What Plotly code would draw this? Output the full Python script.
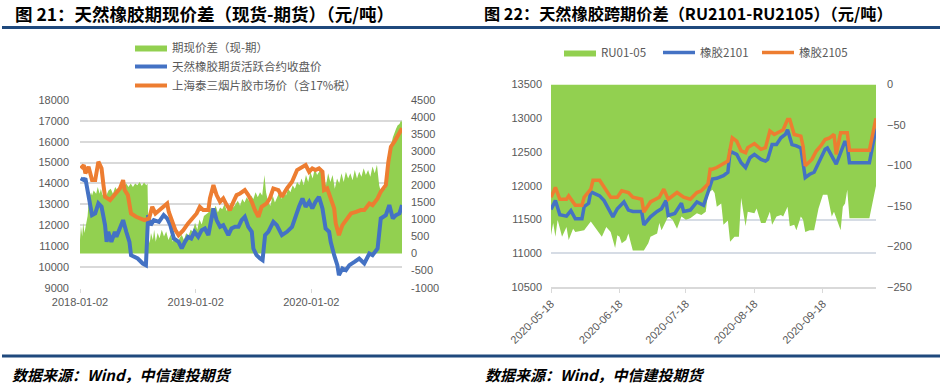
import plotly.graph_objects as go

# ---------------- Chart 21 data ----------------
basis_dates = ["2018-01-02","2018-01-05","2018-01-09","2018-01-12","2018-01-16","2018-01-19","2018-01-23","2018-01-26",
"2018-01-30","2018-02-02","2018-02-06","2018-02-09","2018-02-14","2018-02-22","2018-02-27","2018-03-05","2018-03-09",
"2018-03-14","2018-03-20","2018-03-26","2018-04-02","2018-04-09","2018-04-16","2018-04-23","2018-04-30","2018-05-07",
"2018-05-14","2018-05-21","2018-05-28","2018-06-04","2018-06-11","2018-06-18","2018-06-25","2018-07-02","2018-07-09",
"2018-07-16","2018-07-23","2018-07-30","2018-08-03","2018-08-06","2018-08-10","2018-08-14","2018-08-20","2018-08-24",
"2018-08-29","2018-09-04","2018-09-10","2018-09-17","2018-09-24","2018-10-01","2018-10-08","2018-10-15","2018-10-22",
"2018-10-29","2018-11-05","2018-11-12","2018-11-19","2018-11-26","2018-12-03","2018-12-10","2018-12-17","2018-12-24",
"2018-12-31","2019-01-07","2019-01-14","2019-01-21","2019-01-28","2019-02-11","2019-02-20","2019-02-27","2019-03-06",
"2019-03-13","2019-03-20","2019-03-27","2019-04-03","2019-04-10","2019-04-17","2019-04-24","2019-05-01","2019-05-08",
"2019-05-15","2019-05-22","2019-05-29","2019-06-05","2019-06-12","2019-06-19","2019-06-26","2019-07-03","2019-07-10",
"2019-07-17","2019-07-24","2019-07-31","2019-08-07","2019-08-12","2019-08-19","2019-08-26","2019-09-02","2019-09-09",
"2019-09-16","2019-09-23","2019-09-30","2019-10-07","2019-10-14","2019-10-21","2019-10-28","2019-11-04","2019-11-11",
"2019-11-18","2019-11-25","2019-12-02","2019-12-09","2019-12-16","2019-12-23","2019-12-30","2020-01-06","2020-01-13",
"2020-01-20","2020-02-03","2020-02-10","2020-02-17","2020-02-24","2020-03-02","2020-03-09","2020-03-16","2020-03-23",
"2020-03-30","2020-04-06","2020-04-13","2020-04-20","2020-04-27","2020-05-04","2020-05-11","2020-05-18","2020-05-25",
"2020-06-01","2020-06-08","2020-06-15","2020-06-22","2020-06-29","2020-07-06","2020-07-13","2020-07-20","2020-07-27",
"2020-08-03","2020-08-10","2020-08-17","2020-08-24","2020-08-31","2020-09-04","2020-09-09","2020-09-15","2020-09-20",
"2020-09-25","2020-09-30","2020-10-06","2020-10-11","2020-10-14"]
basis_vals = [400,800,500,900,600,750,950,1100,
1600,1700,1800,1700,1850,1750,1950,1750,1900,
1700,1850,1700,1850,1900,1750,1950,1850,1950,
2000,1900,2050,1950,2050,1950,2050,2000,2100,
1980,2080,2000,2050,500,300,600,400,700,
350,600,450,700,500,650,400,550,350,
500,300,450,550,400,600,500,700,650,
900,700,1000,850,1100,1200,1350,1250,1400,
1200,1350,1300,1450,1250,1400,1500,1350,1450,
1550,1400,1600,1500,1650,1550,1700,1600,1800,
1650,1800,1700,2300,1800,1500,1400,1700,1500,
1650,1800,1600,1850,1700,1900,1800,2000,1900,
2100,2000,2200,2000,2300,2100,2400,2200,2500,
2300,2500,2200,2000,2350,2100,2300,1900,2200,
2050,2350,2100,2400,2200,2350,2150,2450,2200,
2400,2250,2500,2300,2450,2250,2550,2350,2600,
2000,1750,2000,1900,2300,2800,3150,3400,3550,
3650,3750,3800,3900,3850]

fut_dates = ["2018-01-04","2018-01-14","2018-01-19","2018-01-24","2018-02-04","2018-02-09","2018-02-19","2018-03-01",
"2018-03-11","2018-03-22","2018-03-27","2018-04-01","2018-04-11","2018-04-22","2018-04-27","2018-05-08","2018-05-18",
"2018-05-28","2018-06-07","2018-06-12","2018-06-23","2018-07-03","2018-07-19","2018-07-29","2018-08-05","2018-08-13",
"2018-08-23","2018-09-08","2018-09-23","2018-10-04","2018-10-14","2018-10-25","2018-11-09","2018-11-19","2018-11-29",
"2018-12-09","2018-12-19","2018-12-29","2019-01-10","2019-01-21","2019-01-31","2019-02-11","2019-02-27","2019-03-09",
"2019-03-20","2019-03-30","2019-04-15","2019-04-25","2019-05-06","2019-05-17","2019-05-27","2019-06-06","2019-06-17",
"2019-06-28","2019-07-03","2019-07-13","2019-07-24","2019-08-01","2019-08-09","2019-08-19","2019-09-04","2019-09-15",
"2019-10-01","2019-10-17","2019-11-02","2019-11-13","2019-11-24","2019-12-05","2019-12-15","2019-12-26","2020-01-05",
"2020-01-15","2020-01-26","2020-02-06","2020-02-16","2020-02-27","2020-03-03","2020-03-14","2020-03-24","2020-03-29",
"2020-04-09","2020-04-20","2020-05-01","2020-05-17","2020-06-01","2020-06-17","2020-07-03","2020-07-13","2020-07-29",
"2020-08-08","2020-08-24","2020-09-04","2020-09-15","2020-09-25","2020-10-06","2020-10-14"]
fut_vals = [14240,14160,14240,13840,12960,12480,12560,13040,
12880,12000,11200,11680,11200,11680,11440,11840,12240,
11680,11200,10560,10480,10400,10160,10080,12480,12000,
12240,12160,12480,12320,12000,11360,11200,10880,11200,
11440,11360,11680,11440,11760,11840,11520,12800,12240,
11920,12000,11520,11840,11920,11920,12240,12400,11920,
11680,10880,10560,10400,10320,11520,11680,12160,12000,
11520,11680,11920,12480,12880,13280,12880,13120,12800,
13120,13360,12800,11840,11680,11200,10560,10080,9600,
9920,9840,10080,10240,10400,10160,10640,10560,10880,
12320,12480,12960,12320,12480,12560,12960]

spot_dates = ["2018-01-04","2018-01-14","2018-01-19","2018-01-29","2018-02-09","2018-02-19","2018-03-01","2018-03-11",
"2018-03-17","2018-03-22","2018-04-07","2018-04-17","2018-04-27","2018-05-08","2018-05-18","2018-05-23","2018-06-02",
"2018-06-12","2018-06-28","2018-07-13","2018-07-24","2018-08-08","2018-08-18","2018-08-28","2018-09-08","2018-09-23",
"2018-10-04","2018-10-09","2018-10-19","2018-10-30","2018-11-09","2018-11-24","2018-12-09","2018-12-19","2019-01-05",
"2019-01-15","2019-01-26","2019-02-11","2019-02-16","2019-02-27","2019-03-09","2019-03-20","2019-03-30","2019-04-10",
"2019-04-20","2019-05-01","2019-05-11","2019-05-22","2019-06-06","2019-06-17","2019-06-28","2019-07-08","2019-07-19",
"2019-07-29","2019-08-14","2019-08-24","2019-09-04","2019-09-20","2019-10-01","2019-10-17","2019-11-02","2019-11-18",
"2019-12-05","2019-12-15","2019-12-26","2020-01-05","2020-01-15","2020-01-26","2020-02-06","2020-02-11","2020-02-21",
"2020-03-03","2020-03-14","2020-03-19","2020-03-29","2020-04-09","2020-04-20","2020-05-06","2020-05-22","2020-06-06",
"2020-06-17","2020-07-03","2020-07-13","2020-07-29","2020-08-08","2020-08-24","2020-09-01","2020-09-09","2020-09-20",
"2020-09-30","2020-10-14"]
spot_vals = [14720,14880,14480,14800,14160,14160,15040,14720,
13920,13360,13200,13360,13520,13760,14160,13680,13440,
12560,12400,12320,12240,12320,12880,12560,12720,12880,
13040,12640,12240,11760,11520,11760,12080,12240,12560,
12880,12720,12720,13280,13920,13440,13120,13280,12960,
12720,13120,13440,13520,13680,13440,13120,12720,12400,
12880,13040,13280,13760,13680,13360,13760,14080,14640,
14800,14880,14560,14720,14640,14720,14560,13680,13760,
13280,12800,12080,11520,12000,12240,12560,12640,12720,
12720,13040,12960,13280,13600,13920,15040,15760,16000,
16240,16640]

left_x_ticks = ["2018-01-02", "2019-01-02", "2020-01-02"]
left_y2_ticks = [-1000, -500, 0, 500, 1000, 1500, 2000, 2500, 3000, 3500, 4000, 4500]

# ---------------- Chart 22 data ----------------
spread_dates = ["2020-05-18","2020-05-19","2020-05-20","2020-05-21","2020-05-23","2020-05-25","2020-05-26","2020-05-28",
"2020-05-29","2020-06-01","2020-06-02","2020-06-05","2020-06-07","2020-06-09","2020-06-10","2020-06-12","2020-06-14",
"2020-06-16","2020-06-17","2020-06-18","2020-06-19","2020-06-21","2020-06-22","2020-06-24","2020-06-29","2020-07-01",
"2020-07-02","2020-07-05","2020-07-06","2020-07-07","2020-07-10","2020-07-12","2020-07-14","2020-07-16","2020-07-18",
"2020-07-20","2020-07-23","2020-07-25","2020-07-27","2020-07-28","2020-07-30","2020-07-31","2020-08-01","2020-08-03",
"2020-08-04","2020-08-06","2020-08-07","2020-08-09","2020-08-11","2020-08-12","2020-08-14","2020-08-15","2020-08-18",
"2020-08-19","2020-08-21","2020-08-23","2020-08-25","2020-08-26","2020-08-28","2020-08-30","2020-08-31","2020-09-02",
"2020-09-03","2020-09-05","2020-09-06","2020-09-08","2020-09-09","2020-09-10","2020-09-12","2020-09-14","2020-09-15",
"2020-09-16","2020-09-18","2020-09-20","2020-09-22","2020-09-23","2020-09-26","2020-09-27","2020-09-28","2020-09-29",
"2020-09-30","2020-10-09","2020-10-12"]
spread_vals = [-186,-171,-188,-167,-188,-176,-192,-178,
-182,-180,-180,-169,-176,-184,-188,-176,-182,
-202,-186,-188,-196,-192,-184,-205,-205,-196,
-188,-184,-171,-180,-163,-167,-178,-163,-167,
-165,-159,-161,-157,-134,-130,-134,-151,-147,
-173,-168,-194,-188,-188,-140,-175,-157,-159,
-153,-171,-171,-157,-173,-163,-161,-163,-151,
-175,-173,-180,-163,-167,-182,-180,-180,-167,
-153,-136,-136,-163,-157,-180,-151,-147,-130,
-165,-165,-125]

ru2101_dates = ["2020-05-18","2020-05-20","2020-05-22","2020-05-25","2020-05-27","2020-05-29","2020-06-01","2020-06-02",
"2020-06-04","2020-06-05","2020-06-09","2020-06-11","2020-06-15","2020-06-17","2020-06-20","2020-06-22","2020-06-24",
"2020-06-28","2020-06-29","2020-07-02","2020-07-05","2020-07-07","2020-07-09","2020-07-10","2020-07-13","2020-07-16",
"2020-07-17","2020-07-20","2020-07-23","2020-07-26","2020-07-28","2020-07-30","2020-08-01","2020-08-04","2020-08-06",
"2020-08-07","2020-08-10","2020-08-12","2020-08-14","2020-08-16","2020-08-18","2020-08-21","2020-08-23","2020-08-24",
"2020-08-26","2020-08-28","2020-08-30","2020-09-01","2020-09-02","2020-09-04","2020-09-06","2020-09-08","2020-09-10",
"2020-09-12","2020-09-14","2020-09-16","2020-09-17","2020-09-19","2020-09-20","2020-09-23","2020-09-24","2020-09-26",
"2020-09-28","2020-09-29","2020-09-30","2020-10-09","2020-10-12"]
ru2101_vals = [11650,11780,11570,11550,11630,11510,11510,11690,
11740,11910,11850,11780,11540,11660,11760,11640,11620,
11620,11420,11540,11620,11660,11780,11560,11590,11740,
11620,11640,11760,11710,11900,12100,12110,12150,12200,
12510,12465,12340,12270,12415,12465,12390,12365,12390,
12610,12610,12710,12760,12830,12610,12590,12560,12120,
12170,12200,12340,12390,12540,12560,12390,12320,12490,
12660,12590,12340,12340,12850]

ru2105_dates = ["2020-05-18","2020-05-20","2020-05-22","2020-05-25","2020-05-26","2020-05-29","2020-06-01","2020-06-02",
"2020-06-05","2020-06-06","2020-06-09","2020-06-11","2020-06-14","2020-06-17","2020-06-19","2020-06-22","2020-06-24",
"2020-06-28","2020-06-29","2020-07-02","2020-07-06","2020-07-08","2020-07-10","2020-07-14","2020-07-17","2020-07-20",
"2020-07-23","2020-07-25","2020-07-28","2020-07-29","2020-07-30","2020-08-01","2020-08-04","2020-08-06","2020-08-08",
"2020-08-10","2020-08-12","2020-08-14","2020-08-15","2020-08-18","2020-08-21","2020-08-23","2020-08-25","2020-08-27",
"2020-08-30","2020-08-31","2020-09-02","2020-09-03","2020-09-05","2020-09-08","2020-09-09","2020-09-10","2020-09-13",
"2020-09-15","2020-09-17","2020-09-19","2020-09-21","2020-09-23","2020-09-24","2020-09-26","2020-09-29","2020-09-30",
"2020-10-09","2020-10-12"]
ru2105_vals = [11830,11975,11800,11800,11850,11710,11710,11830,
11950,12080,12080,11975,11830,11830,11925,11900,11830,
11800,11610,11760,11830,11950,11800,11900,11830,11800,
11900,11925,12025,12245,12245,12270,12320,12365,12710,
12660,12515,12490,12565,12625,12540,12565,12810,12760,
12810,12830,12980,12980,12760,12735,12590,12295,12390,
12515,12590,12685,12710,12760,12465,12785,12785,12525,
12525,13000]

right_x_ticks = ["2020-05-18", "2020-06-18", "2020-07-18", "2020-08-18", "2020-09-18"]

# ---------------- styling ----------------
W, H = 944, 386
GREEN = "#92D050"
BLUE = "#4472C4"
ORANGE = "#ED7D31"
TXT = "#595959"
FONT = "Liberation Sans, Noto Sans CJK SC, sans-serif"
CJK = "Noto Sans CJK SC, sans-serif"

def px(x):
    return x / W

def py(y):
    return 1 - y / H

fig = go.Figure()

# Chart 21
fig.add_trace(go.Scatter(x=basis_dates, y=basis_vals, name="期现价差（现-期）", mode="lines",
                         line=dict(width=0, color=GREEN), fill="tozeroy", fillcolor=GREEN,
                         xaxis="x", yaxis="y", legend="legend"))
fig.add_trace(go.Scatter(x=fut_dates, y=fut_vals, name="天然橡胶期货活跃合约收盘价", mode="lines",
                         line=dict(width=4, color=BLUE), xaxis="x", yaxis="y2", legend="legend"))
fig.add_trace(go.Scatter(x=spot_dates, y=spot_vals, name="上海泰三烟片胶市场价（含17%税）", mode="lines",
                         line=dict(width=4, color=ORANGE), xaxis="x", yaxis="y2", legend="legend"))

# Chart 22
fig.add_trace(go.Scatter(x=spread_dates, y=spread_vals, name="RU01-05", mode="lines",
                         line=dict(width=0, color=GREEN), fill="tozeroy", fillcolor=GREEN,
                         xaxis="x2", yaxis="y3", legend="legend2"))
fig.add_trace(go.Scatter(x=ru2101_dates, y=ru2101_vals, name="橡胶2101", mode="lines",
                         line=dict(width=3.5, color=BLUE), xaxis="x2", yaxis="y4", legend="legend2"))
fig.add_trace(go.Scatter(x=ru2105_dates, y=ru2105_vals, name="橡胶2105", mode="lines",
                         line=dict(width=3.5, color=ORANGE), xaxis="x2", yaxis="y4", legend="legend2"))

tickfont = dict(family=FONT, size=11, color=TXT)

fig.update_layout(
    width=W, height=H,
    margin=dict(l=0, r=0, t=0, b=0, pad=0, autoexpand=False),
    paper_bgcolor="white", plot_bgcolor="rgba(0,0,0,0)",
    font=dict(family=FONT, size=11, color=TXT),
    hovermode=False,
    xaxis=dict(domain=[px(80), px(402)], type="date", range=["2018-01-02", "2020-10-14"],
               tickvals=left_x_ticks, ticktext=left_x_ticks, showgrid=False, zeroline=False,
               ticks="outside", ticklen=4, tickcolor="#D9D9D9", tickfont=tickfont, anchor="y",
               automargin=False),
    yaxis=dict(domain=[py(287.7), py(100)], range=[-1000, 4500], side="right",
               tickvals=left_y2_ticks, ticktext=[str(v) for v in left_y2_ticks],
               showgrid=False, zeroline=False, tickfont=tickfont, anchor="x",
               ticklabelstandoff=8, automargin=False),
    yaxis2=dict(overlaying="y", side="left", range=[9000, 18000], dtick=1000, tickformat="d",
                anchor="x", showgrid=True, gridcolor="#D9D9D9", gridwidth=1.5, zeroline=False,
                tickfont=tickfont, ticklabelstandoff=10, automargin=False),
    xaxis2=dict(domain=[px(551), px(876)], type="date", range=["2020-05-18", "2020-10-12"],
                tickvals=right_x_ticks, ticktext=right_x_ticks, tickangle=-45, showgrid=False,
                zeroline=False, showline=True, linecolor="#D9D9D9", linewidth=2,
                ticks="outside", ticklen=4, tickcolor="#D9D9D9", tickfont=tickfont, anchor="y3",
                automargin=False),
    yaxis3=dict(domain=[py(287), py(84.5)], range=[-250, 0], dtick=50, side="right",
                showgrid=False, zeroline=False, tickfont=tickfont, anchor="x2",
                ticklabelstandoff=10, automargin=False),
    yaxis4=dict(overlaying="y3", side="left", range=[10500, 13500], dtick=500, tickformat="d",
                anchor="x2", showgrid=True, gridcolor="#D6DCE5", gridwidth=1.5, zeroline=False,
                tickfont=tickfont, ticklabelstandoff=8, automargin=False),
    legend=dict(x=px(130), y=py(33), xanchor="left", yanchor="top", orientation="v",
                font=dict(family=CJK, size=11.5, color=TXT), bgcolor="rgba(0,0,0,0)",
                tracegroupgap=0, itemwidth=32),
    legend2=dict(x=px(559), y=py(38), xanchor="left", yanchor="top", orientation="h",
                 font=dict(family=CJK, size=11.5, color=TXT), bgcolor="rgba(0,0,0,0)",
                 itemwidth=32, entrywidth=52, entrywidthmode="pixels"),
)

# Header / footer rules
fig.add_shape(type="line", xref="paper", yref="paper", x0=px(2), x1=px(940), y0=py(27.5), y1=py(27.5),
              line=dict(color="#1F497D", width=3))
fig.add_shape(type="line", xref="paper", yref="paper", x0=px(2), x1=px(940), y0=py(356), y1=py(356),
              line=dict(color="#1F497D", width=3))

fig.add_annotation(text="图 21：天然橡胶期现价差（现货-期货）（元/吨）", x=px(13), y=py(13),
                   xref="paper", yref="paper", xanchor="left", yanchor="middle", showarrow=False,
                   font=dict(family=CJK, size=17.5, color="#000000", weight="bold"))
fig.add_annotation(text="图 22：天然橡胶跨期价差（RU2101-RU2105）（元/吨）", x=px(482), y=py(13),
                   xref="paper", yref="paper", xanchor="left", yanchor="middle", showarrow=False,
                   font=dict(family=CJK, size=16.2, color="#000000", weight="bold"))

src_font = dict(family=CJK, size=15, color="#000000", style="italic", weight="bold")
for sx in (10, 483):
    fig.add_annotation(text="数据来源：Wind，中信建投期货", x=px(sx), y=py(374),
                       xref="paper", yref="paper", xanchor="left", yanchor="middle", showarrow=False,
                       font=src_font)

# remove the browser's default 8px body margin so the figure sits at the window's corner
fig.write_html("out.html", config={"displayModeBar": False},
               post_script="document.body.style.margin='0px';")
